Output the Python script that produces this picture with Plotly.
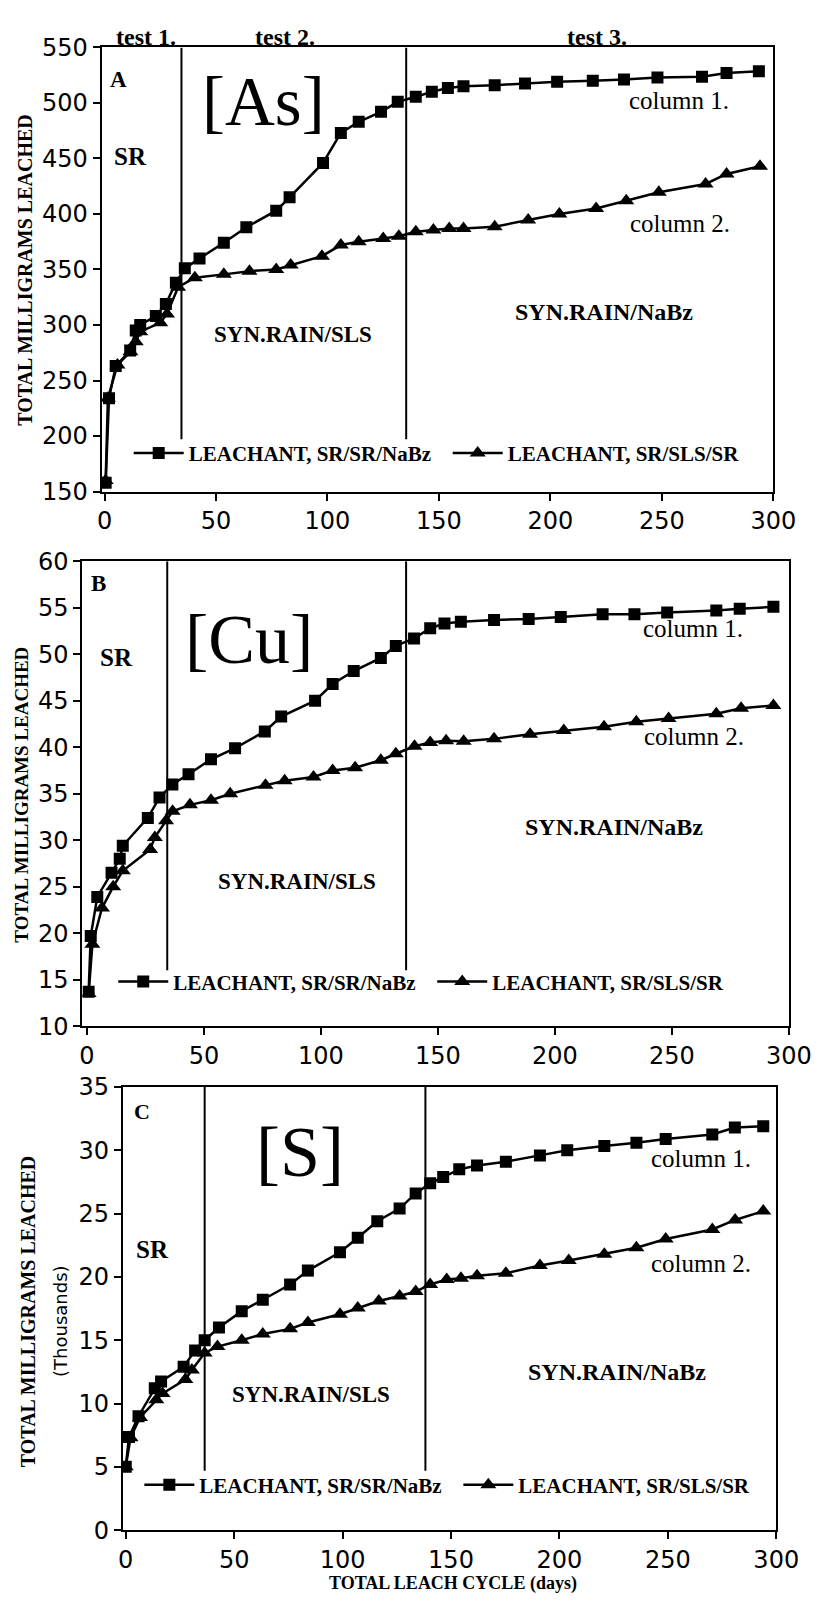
import plotly.graph_objects as go

# ---------------- data ----------------
# Panel A  [As]
as_days_c1 = [0.5, 2, 5, 11.5, 14, 16, 23, 27.5, 32, 36, 42.6, 53.5, 63.6, 77, 83, 98, 106, 114, 124, 131.5,
              139.6, 146.8, 154, 161, 175, 188.6, 203, 219, 233, 248, 268, 279, 293.5]
as_col1 = [158, 234, 263, 277, 295, 300, 308, 319, 338, 351, 360, 374, 388, 403, 415, 446, 473, 483, 492, 501,
           505.5, 510, 513.5, 515, 516, 517.5, 519, 520, 521, 523, 523.5, 527, 528.6]
as_days_c2 = [0.5, 1.5, 5.8, 11.6, 14, 16, 25, 28, 33, 40.5, 53.5, 65, 77, 83.5, 97.5, 106, 114, 125, 132,
              139.6, 147.5, 154.6, 161, 175, 190, 204, 220.5, 234, 248.6, 269.6, 279, 294]
as_col2 = [160, 234, 264, 276, 285, 294, 302, 310, 334, 342.6, 345.6, 348.5, 350, 354, 362, 372, 375, 378, 380,
           384, 385.5, 387, 387, 388.5, 394.5, 400, 405, 412, 419.6, 427, 436, 443]

# Panel B  [Cu]
cu_days_c1 = [0.7, 1.6, 4.4, 10.5, 14, 15.3, 26, 31, 36.5, 43.4, 53, 63.3, 76, 83, 97.5, 105, 114, 125.6, 132,
              139.8, 146.7, 152.8, 159.8, 174, 188.8, 202.5, 220.4, 234, 248, 269, 279, 293.4]
cu_col1 = [13.7, 19.7, 23.9, 26.5, 28, 29.4, 32.4, 34.6, 36, 37.1, 38.7, 39.9, 41.7, 43.3, 45, 46.8, 48.2, 49.6,
           50.9, 51.7, 52.8, 53.3, 53.5, 53.7, 53.8, 54.0, 54.3, 54.3, 54.5, 54.7, 54.9, 55.1]
cu_days_c2 = [0.7, 2.3, 6.4, 11.2, 15.3, 27, 29, 33.8, 36.6, 44, 53, 61.2, 76.3, 84.5, 96.8, 105, 114.6, 125.6,
              132, 140, 146.7, 153.5, 161, 174, 189.4, 203.8, 221, 234.8, 248.6, 269, 279.6, 293.4]
cu_col2 = [13.5, 18.8, 22.7, 25, 26.7, 29, 30.3, 32.1, 33.1, 33.8, 34.3, 35, 35.9, 36.4, 36.8, 37.5, 37.8, 38.6,
           39.3, 40.1, 40.5, 40.7, 40.65, 40.9, 41.4, 41.8, 42.2, 42.75, 43.1, 43.6, 44.2, 44.5]

# Panel C  [S] (thousands)
s_days_c1 = [0, 1.5, 5.9, 13.4, 16.3, 26.7, 32, 36.4, 43, 53.5, 63.2, 75.8, 84, 98.8, 107, 116, 126.3, 133.7,
             140.4, 146.4, 153.8, 162, 175.3, 191, 203.6, 220.7, 235.5, 249, 270.5, 280.9, 294]
s_col1 = [5.0, 7.35, 9.0, 11.2, 11.75, 12.9, 14.2, 15.0, 16.0, 17.3, 18.2, 19.4, 20.5, 21.95, 23.1, 24.4, 25.4,
          26.6, 27.4, 27.9, 28.5, 28.8, 29.1, 29.6, 30.0, 30.35, 30.6, 30.9, 31.25, 31.8, 31.9]
s_days_c2 = [0, 2.2, 6.6, 14.1, 17, 27.5, 30.5, 36.4, 42.3, 53.5, 63.2, 75.8, 84, 98.8, 107, 116.7, 126.3, 133.7,
             140.4, 148, 154.6, 162, 175.3, 191, 204.3, 220.7, 235.5, 249, 270.5, 281, 294]
s_col2 = [5.0, 7.3, 8.9, 10.3, 10.8, 11.9, 12.65, 14.0, 14.5, 15.0, 15.5, 15.9, 16.4, 17.05, 17.55, 18.1, 18.5,
          18.85, 19.4, 19.8, 19.9, 20.1, 20.3, 20.9, 21.3, 21.8, 22.3, 23.0, 23.75, 24.5, 25.2]

legend_names = ["LEACHANT, SR/SR/NaBz", "LEACHANT, SR/SLS/SR"]
x_ticks = [0, 50, 100, 150, 200, 250, 300]
as_ticks = [150, 200, 250, 300, 350, 400, 450, 500, 550]
cu_ticks = [10, 15, 20, 25, 30, 35, 40, 45, 50, 55, 60]
s_ticks = [0, 5, 10, 15, 20, 25, 30, 35]
test_days = {"A": [34.5, 135.3], "B": [34.3, 136.4], "C": [36.4, 138.2]}

W, H = 836, 1611
SERIF = "Liberation Serif"
SANS = "DejaVu Sans"


def px(x):
    return x / W


def py(y):
    return 1 - y / H


fig = go.Figure()

panels = [
    ("x", "y", "legend", as_days_c1, as_col1, as_days_c2, as_col2),
    ("x2", "y2", "legend2", cu_days_c1, cu_col1, cu_days_c2, cu_col2),
    ("x3", "y3", "legend3", s_days_c1, s_col1, s_days_c2, s_col2),
]
for xa, ya, lg, d1, v1, d2, v2 in panels:
    fig.add_trace(go.Scatter(x=d1, y=v1, mode="lines+markers", name=legend_names[0], xaxis=xa, yaxis=ya,
                             legend=lg, line=dict(color="black", width=2.5),
                             marker=dict(symbol="square", size=12, color="black")))
    fig.add_trace(go.Scatter(x=d2, y=v2, mode="lines+markers", name=legend_names[1], xaxis=xa, yaxis=ya,
                             legend=lg, line=dict(color="black", width=2.5),
                             marker=dict(symbol="triangle-up", size=14, color="black")))

axis_common = dict(showline=True, mirror=True, linecolor="black", linewidth=2, ticks="outside",
                   ticklen=7, tickwidth=2, tickcolor="black", showgrid=False, zeroline=False,
                   tickfont=dict(family=SANS, size=24, color="black"))

fig.update_layout(
    width=W, height=H, margin=dict(l=0, r=0, t=0, b=0),
    paper_bgcolor="white", plot_bgcolor="white",
    xaxis=dict(domain=[px(100), px(795)], range=[-1.3, 300], tickvals=x_ticks, anchor="y", **axis_common),
    yaxis=dict(domain=[py(486), py(34)], range=[150, 550], tickvals=as_ticks, anchor="x", **axis_common),
    xaxis2=dict(domain=[px(80), px(811)], range=[-2, 300], tickvals=x_ticks, anchor="y2", **axis_common),
    yaxis2=dict(domain=[py(1030), py(557)], range=[10, 60], tickvals=cu_ticks, anchor="x2", **axis_common),
    xaxis3=dict(domain=[px(122), px(798)], range=[-1.3, 300], tickvals=x_ticks, anchor="y3", **axis_common),
    yaxis3=dict(domain=[py(1543), py(1092)], range=[0, 35], tickvals=s_ticks, anchor="x3", **axis_common),
)

leg_common = dict(orientation="h", xanchor="left", yanchor="middle", bgcolor="rgba(0,0,0,0)",
                  font=dict(family=SERIF, size=21, color="black", weight="bold"), itemwidth=50,
                  entrywidthmode="pixels", entrywidth=254, xref="paper", yref="paper")
fig.update_layout(
    legend=dict(x=px(128), y=py(447), **leg_common),
    legend2=dict(x=px(112), y=py(985), **leg_common),
    legend3=dict(x=px(139), y=py(1497), **leg_common),
)

# vertical test-period dividers
shape_refs = {"A": ("x", "y", 197, 550), "B": ("x2", "y2", 16, 60), "C": ("x3", "y3", 4.7, 35)}
for key, (xr, yr, y0, y1) in shape_refs.items():
    for d in test_days[key]:
        fig.add_shape(type="line", xref=xr, yref=yr, x0=d, x1=d, y0=y0, y1=y1,
                      line=dict(color="black", width=2))

ann = []


def add_text(text, x, y, size, family=SERIF, bold=False, angle=0):
    t = f"<b>{text}</b>" if bold else text
    ann.append(dict(text=t, x=px(x), y=py(y), xref="paper", yref="paper", showarrow=False,
                    xanchor="center", yanchor="middle", textangle=angle,
                    font=dict(family=family, size=size, color="black")))


# Panel A texts
add_text("test 1.", 146, 23, 24, bold=True)
add_text("test 2.", 290, 23, 24, bold=True)
add_text("test 3.", 612, 23, 24, bold=True)
add_text("A", 117, 67, 23, bold=True)
add_text("[As]", 267, 90, 69)
add_text("SR", 130, 145, 25, bold=True)
add_text("SYN.RAIN/SLS", 298, 326, 23, bold=True)
add_text("column 1.", 697, 88, 25)
add_text("column 2.", 698, 213, 25)
add_text("SYN.RAIN/NaBz", 620, 303, 24, bold=True)
add_text("TOTAL MILLIGRAMS LEACHED", 21, 260, 20, bold=True, angle=-90)

# Panel B texts
add_text("B", 97, 580, 23, bold=True)
add_text("[Cu]", 252, 637, 70)
add_text("SR", 115, 655, 25, bold=True)
add_text("SYN.RAIN/SLS", 302, 883, 23, bold=True)
add_text("column 1.", 712, 625, 25)
add_text("column 2.", 713, 735, 25)
add_text("SYN.RAIN/NaBz", 630, 827, 24, bold=True)
add_text("TOTAL MILLIGRAMS LEACHED", 17, 794, 19, bold=True, angle=-90)

# Panel C texts
add_text("C", 142, 1117, 22, bold=True)
add_text("[S]", 305, 1158, 72)
add_text("SR", 153, 1257, 25, bold=True)
add_text("SYN.RAIN/SLS", 317, 1405, 23, bold=True)
add_text("column 1.", 720, 1165, 25)
add_text("column 2.", 720, 1272, 25)
add_text("SYN.RAIN/NaBz", 633, 1382, 24, bold=True)
add_text("TOTAL MILLIGRAMS LEACHED", 24, 1320, 20, bold=True, angle=-90)
add_text("(Thousands)", 58, 1330, 18, family=SANS, angle=-90)
add_text("TOTAL LEACH CYCLE (days)", 464, 1597, 18, bold=True)

fig.update_layout(annotations=ann)

fig.write_html("out.html")
